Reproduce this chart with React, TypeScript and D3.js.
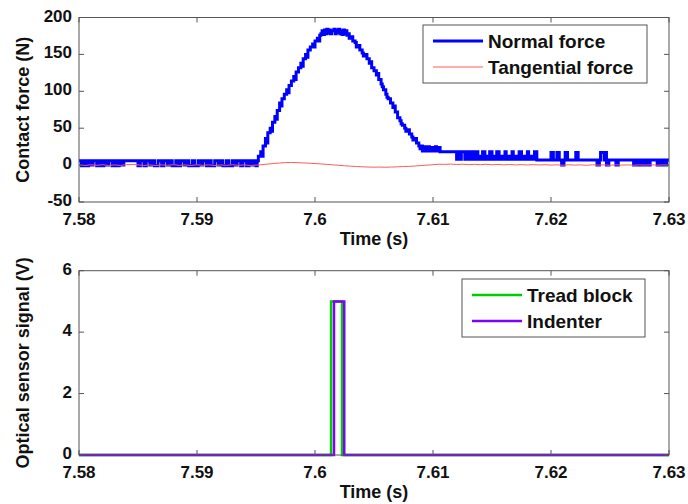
import React from 'react';
import * as d3 from 'd3';

// time axis (s)
const timeTicks = [7.58, 7.59, 7.6, 7.61, 7.62, 7.63];
const timeTickLabels = ['7.58', '7.59', '7.6', '7.61', '7.62', '7.63'];
const forceTicks = [-50, 0, 50, 100, 150, 200];
const signalTicks = [0, 2, 4, 6];

// normal force: [time, N], stepped signal
const normalForce: [number, number][] = [
  [7.5800, 6], [7.5802, -1], [7.5804, 6], [7.5806, -1], [7.5808, 6], [7.5810, 0], [7.5812, 6], [7.5815, -1],
  [7.5817, 6], [7.5819, -1], [7.5821, 6], [7.5823, 0], [7.5825, 6], [7.5828, -1], [7.5830, 6], [7.5832, -1],
  [7.5834, 6], [7.5836, 0], [7.5838, 6],
  [7.5850, -1], [7.5852, 6], [7.5855, -1], [7.5857, 6], [7.5860, 0], [7.5862, 6], [7.5864, -1], [7.5867, 6],
  [7.5870, -1], [7.5872, 6], [7.5875, 0], [7.5877, 6], [7.5879, -1], [7.5882, 6], [7.5884, -1], [7.5886, 6],
  [7.5889, 0], [7.5891, 6], [7.5893, -1], [7.5896, 6], [7.5898, -1], [7.5901, 6], [7.5903, 0], [7.5905, 6],
  [7.5908, -1], [7.5910, 6], [7.5912, -1], [7.5915, 6], [7.5918, 0], [7.5920, 6], [7.5922, -1], [7.5925, 6],
  [7.5927, -1], [7.5930, 6], [7.5932, 0], [7.5934, 6], [7.5937, -1], [7.5939, 6], [7.5942, -1], [7.5944, 6],
  [7.5946, 0], [7.5948, 6], [7.5950, -1],
  [7.5951, 6], [7.5952, 12], [7.5954, 18], [7.5955, 12], [7.5956, 26], [7.5958, 36], [7.5959, 30], [7.5960, 44],
  [7.5962, 50], [7.5963, 46], [7.5964, 58], [7.5966, 66], [7.5967, 62], [7.5968, 74], [7.5970, 84], [7.5971, 80],
  [7.5972, 90], [7.5974, 96], [7.5976, 102], [7.5977, 98], [7.5978, 108], [7.5980, 114], [7.5982, 120], [7.5983, 116],
  [7.5984, 126], [7.5986, 132], [7.5988, 138], [7.5989, 134], [7.5990, 144], [7.5992, 150], [7.5993, 146], [7.5994, 156],
  [7.5996, 160], [7.5998, 164], [7.5999, 160], [7.6000, 168], [7.6002, 172], [7.6003, 168], [7.6004, 176],
  [7.6005, 178], [7.6006, 182], [7.6007, 177], [7.6008, 183], [7.6009, 178], [7.6010, 184], [7.6011, 179], [7.6012, 183],
  [7.6013, 178], [7.6014, 182], [7.6016, 184], [7.6017, 178], [7.6018, 183], [7.6019, 180], [7.6020, 184], [7.6021, 178],
  [7.6022, 182], [7.6023, 177], [7.6024, 183], [7.6025, 178], [7.6026, 182], [7.6027, 176],
  [7.6028, 178], [7.6029, 172], [7.6031, 174], [7.6032, 168], [7.6034, 166], [7.6035, 160], [7.6036, 162], [7.6038, 156],
  [7.6040, 152], [7.6041, 148], [7.6042, 150], [7.6044, 144], [7.6046, 138], [7.6047, 140], [7.6048, 132], [7.6050, 128],
  [7.6052, 122], [7.6053, 124], [7.6054, 116], [7.6056, 110], [7.6057, 106], [7.6058, 102], [7.6060, 96], [7.6061, 92],
  [7.6062, 90], [7.6064, 84], [7.6066, 78], [7.6067, 80], [7.6068, 72], [7.6070, 64], [7.6072, 60], [7.6073, 56],
  [7.6074, 54], [7.6076, 50], [7.6077, 46], [7.6078, 48], [7.6080, 42], [7.6082, 38], [7.6083, 34], [7.6084, 36],
  [7.6086, 30], [7.6088, 26], [7.6089, 22], [7.6090, 26],
  [7.6091, 19], [7.6093, 25], [7.6094, 19], [7.6096, 25], [7.6097, 19], [7.6099, 24], [7.6100, 19], [7.6102, 25],
  [7.6103, 19], [7.6105, 24], [7.6106, 18],
  [7.6120, 8], [7.6121, 18], [7.6123, 8], [7.6124, 18], [7.6127, 8], [7.6128, 18], [7.6130, 8], [7.6131, 18],
  [7.6133, 8], [7.6134, 18], [7.6135, 8], [7.6137, 18], [7.6138, 8], [7.6139, 12], [7.6141, 8], [7.6142, 18],
  [7.6144, 8], [7.6145, 12], [7.6147, 8], [7.6148, 18], [7.6150, 8], [7.6151, 12], [7.6153, 8], [7.6154, 18],
  [7.6156, 8], [7.6158, 12], [7.6159, 8], [7.6161, 18], [7.6162, 8], [7.6164, 12], [7.6165, 8], [7.6167, 18],
  [7.6168, 8], [7.6170, 12], [7.6172, 8], [7.6173, 18], [7.6175, 8], [7.6176, 12], [7.6178, 8], [7.6180, 18],
  [7.6181, 8], [7.6183, 12], [7.6184, 8], [7.6186, 18], [7.6188, 7],
  [7.6200, 17], [7.6202, 7], [7.6205, 17], [7.6207, 7], [7.6209, 0], [7.6211, 7], [7.6212, 17], [7.6214, 7],
  [7.6221, 17], [7.6223, 7], [7.6239, 0], [7.6241, 7], [7.6242, 17], [7.6245, 7], [7.6246, 17], [7.6247, 0],
  [7.6249, 7], [7.6255, 0], [7.6257, 7], [7.6270, 0], [7.6271, 7], [7.6273, 0], [7.6274, 7], [7.6276, 0],
  [7.6277, 7], [7.6279, 0], [7.6281, 7], [7.6283, 0], [7.6284, 7], [7.6290, 0], [7.6291, 7], [7.6293, 0],
  [7.6295, 7], [7.6297, 0], [7.6298, 7], [7.6300, 7],
];

// tangential force: [time, N]
const tangentialForce: [number, number][] = [
  [7.5800, 0], [7.5805, -0.5], [7.5810, 0.4], [7.5815, -0.3], [7.5820, 0.5], [7.5825, -0.5], [7.5830, 0.2],
  [7.5835, -0.4], [7.5840, 0.6], [7.5845, 1.0], [7.5850, 0.3], [7.5855, -0.5], [7.5860, 0.2], [7.5865, -0.6],
  [7.5870, 0.3], [7.5875, -0.2], [7.5880, 0.5], [7.5885, -0.4], [7.5890, 0.2], [7.5895, -0.5], [7.5900, 0.4],
  [7.5905, -0.3], [7.5910, 0.3], [7.5915, -0.6], [7.5920, 0.2], [7.5925, -0.4], [7.5930, 0.5], [7.5935, -0.3],
  [7.5940, 0.2], [7.5945, -0.5], [7.5950, 0], [7.5955, 0.6], [7.5960, 1.4], [7.5965, 2.2], [7.5970, 2.8],
  [7.5975, 3.4], [7.5980, 3.6], [7.5985, 3.3], [7.5990, 3.0], [7.5995, 2.6], [7.6000, 2.0], [7.6005, 1.6],
  [7.6010, 1.0], [7.6015, 0.4], [7.6020, -0.3], [7.6025, -0.9], [7.6030, -1.4], [7.6035, -1.9], [7.6040, -2.3],
  [7.6045, -2.6], [7.6050, -2.8], [7.6055, -2.7], [7.6060, -2.9], [7.6065, -2.6], [7.6070, -2.3], [7.6075, -2.0],
  [7.6080, -1.7], [7.6085, -1.2], [7.6090, -0.6], [7.6095, 0.0], [7.6100, 0.5], [7.6105, 1.2], [7.6110, 1.0],
  [7.6115, 1.4], [7.6120, 0.8], [7.6125, 1.2], [7.6130, 0.6], [7.6135, 1.0], [7.6140, 0.5], [7.6145, 1.1],
  [7.6150, 0.4], [7.6155, 0.9], [7.6160, 0.3], [7.6165, 0.8], [7.6170, 0.2], [7.6175, 0.7], [7.6180, 0.1],
  [7.6185, 0.6], [7.6190, 0.2], [7.6195, 0.5], [7.6200, 0.0], [7.6205, 0.4], [7.6210, -0.2], [7.6215, 0.5],
  [7.6220, 0.0], [7.6225, 0.3], [7.6230, -0.3], [7.6235, 0.4], [7.6240, 0.0], [7.6245, 0.3], [7.6250, -0.2],
  [7.6255, 0.4], [7.6260, 0.0], [7.6265, 0.3], [7.6270, -0.2], [7.6275, 0.3], [7.6280, 0.0], [7.6285, 0.4],
  [7.6290, -0.1], [7.6295, 0.2], [7.6300, 0.0],
];

// optical sensor signals: [time, V]
const treadBlock: [number, number][] = [
  [7.58, 0], [7.60136, 0], [7.60136, 5], [7.60229, 5], [7.60229, 0], [7.63, 0],
];
const indenter: [number, number][] = [
  [7.58, 0], [7.60161, 0], [7.60161, 5], [7.60248, 5], [7.60248, 0], [7.63, 0],
];

const FONT = 'Liberation Sans, Arial, sans-serif';
const AXIS_COLOR = '#555';

type Series = { name: string; data: [number, number][]; color: string; width: number; step?: boolean };

const Panel = ({ id, top, bottom, yDomain, yTicks, yLabel, series, legend }: {
  id: string; top: number; bottom: number; yDomain: [number, number]; yTicks: number[]; yLabel: string;
  series: Series[]; legend: { x: number; y: number; w: number; h: number };
}) => {
  const left = 79;
  const right = 669;
  const x = d3.scaleLinear().domain([7.58, 7.63]).range([left, right]);
  const y = d3.scaleLinear().domain(yDomain).range([bottom, top]);
  const tick = 5;

  return (
    <g>
      <defs>
        <clipPath id={`clip-${id}`}>
          <rect x={left} y={top - 2} width={right - left} height={bottom - top + 4} />
        </clipPath>
      </defs>
      <rect x={left} y={top} width={right - left} height={bottom - top} fill="white" />
      <g clipPath={`url(#clip-${id})`}>
        {series.map((s) => {
          const line = d3.line<[number, number]>()
            .x((d) => x(d[0]))
            .y((d) => y(d[1]))
            .curve(s.step ? d3.curveStepAfter : d3.curveLinear);
          return (
            <path key={s.name} d={line(s.data) || ''} fill="none" stroke={s.color}
              strokeWidth={s.width} strokeLinejoin="miter" />
          );
        })}
      </g>
      {/* box and inward ticks */}
      <rect x={left} y={top} width={right - left} height={bottom - top} fill="none" stroke={AXIS_COLOR} strokeWidth={1} />
      {timeTicks.map((t, i) => (
        <g key={`xt${i}`}>
          <line x1={x(t)} x2={x(t)} y1={bottom} y2={bottom - tick} stroke={AXIS_COLOR} />
          <line x1={x(t)} x2={x(t)} y1={top} y2={top + tick} stroke={AXIS_COLOR} />
          <text x={x(t)} y={bottom + 23} textAnchor="middle" fontFamily={FONT} fontWeight="bold" fontSize={17} fill="#111">
            {timeTickLabels[i]}
          </text>
        </g>
      ))}
      {yTicks.map((v) => (
        <g key={`yt${v}`}>
          <line x1={left} x2={left + tick} y1={y(v)} y2={y(v)} stroke={AXIS_COLOR} />
          <line x1={right} x2={right - tick} y1={y(v)} y2={y(v)} stroke={AXIS_COLOR} />
          <text x={left - 7} y={y(v) + 4} textAnchor="end" fontFamily={FONT} fontWeight="bold" fontSize={17} fill="#111">
            {v}
          </text>
        </g>
      ))}
      <text x={(left + right) / 2} y={bottom + 43} textAnchor="middle" fontFamily={FONT} fontWeight="bold" fontSize={18} fill="#111">
        Time (s)
      </text>
      <text transform={`translate(29,${(top + bottom) / 2}) rotate(-90)`} textAnchor="middle" fontFamily={FONT}
        fontWeight="bold" fontSize={18} fill="#111">
        {yLabel}
      </text>
      {/* legend */}
      <rect x={legend.x} y={legend.y} width={legend.w} height={legend.h} fill="white" stroke={AXIS_COLOR} />
      {series.map((s, i) => {
        const ly = legend.y + 16 + i * 26;
        return (
          <g key={`lg${s.name}`}>
            <line x1={legend.x + 10} x2={legend.x + 60} y1={ly} y2={ly} stroke={s.color} strokeWidth={s.width} />
            <text x={legend.x + 65} y={ly + 7} fontFamily={FONT} fontWeight="bold" fontSize={19} fill="#111">
              {s.name}
            </text>
          </g>
        );
      })}
    </g>
  );
};

export default function App() {
  return (
    <svg width={688} height={504} style={{ position: 'absolute', left: 0, top: 0, background: 'white' }}>
      <rect width={688} height={504} fill="white" />
      <Panel
        id="force"
        top={17.5}
        bottom={202}
        yDomain={[-50, 200]}
        yTicks={forceTicks}
        yLabel="Contact force (N)"
        series={[
          { name: 'Normal force', data: normalForce, color: '#0000ff', width: 3, step: true },
          { name: 'Tangential force', data: tangentialForce, color: '#ff5a5a', width: 1 },
        ]}
        legend={{ x: 423, y: 25, w: 224, h: 58 }}
      />
      <Panel
        id="optical"
        top={270.7}
        bottom={455}
        yDomain={[0, 6]}
        yTicks={signalTicks}
        yLabel="Optical sensor signal (V)"
        series={[
          { name: 'Tread block', data: treadBlock, color: '#00cc00', width: 2.5 },
          { name: 'Indenter', data: indenter, color: '#8000ff', width: 2.5 },
        ]}
        legend={{ x: 462, y: 279, w: 183, h: 58 }}
      />
    </svg>
  );
}
